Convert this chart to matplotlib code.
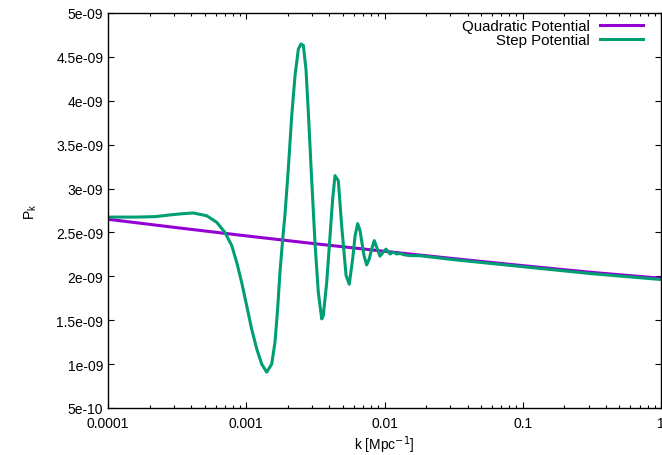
import matplotlib
matplotlib.use("Agg")
import matplotlib.pyplot as plt
import numpy as np
from matplotlib.ticker import LogLocator, NullFormatter

plt.rcParams['font.family'] = ['Liberation Sans', 'DejaVu Sans']

# Quadratic potential: log10(k), P_k [1e-9]
quad_logk = [-4.0, -3.5, -3.0, -2.5, -2.0, -1.5, -1.0, -0.5, 0.0]
quad_pk = [2.65, 2.554, 2.461, 2.371, 2.285, 2.202, 2.122, 2.045, 1.978]

# Step potential: log10(k), P_k [1e-9]
step_logk = [-4.0, -3.8, -3.66, -3.55, -3.479, -3.383, -3.286, -3.214, -3.154,
             -3.105, -3.069, -3.033, -2.997, -2.961, -2.924, -2.888, -2.852,
             -2.816, -2.792, -2.773, -2.756, -2.736, -2.720, -2.696, -2.671,
             -2.647, -2.623, -2.604, -2.587, -2.568, -2.551, -2.527, -2.503,
             -2.479, -2.454, -2.443, -2.418, -2.394, -2.375, -2.358, -2.334,
             -2.310, -2.278, -2.255, -2.230, -2.213, -2.194, -2.177, -2.148,
             -2.129, -2.110, -2.093, -2.074, -2.056, -2.033, -2.009, -1.989,
             -1.960, -1.936, -1.912, -1.888, -1.852, -1.816, -1.743, -1.5,
             -1.0, -0.5, 0.0]
step_pk = [2.675, 2.675, 2.68, 2.70, 2.711, 2.722, 2.69, 2.616, 2.50,
           2.35, 2.16, 1.93, 1.667, 1.40, 1.173, 1.0, 0.908,
           1.0, 1.25, 1.63, 2.05, 2.43, 2.70, 3.22, 3.83,
           4.29, 4.59, 4.647, 4.63, 4.36, 3.87, 3.11, 2.39,
           1.82, 1.515, 1.55, 1.93, 2.46, 2.88, 3.147, 3.09,
           2.58, 2.01, 1.91, 2.20, 2.46, 2.60, 2.52, 2.235,
           2.13, 2.20, 2.31, 2.407, 2.33, 2.23, 2.275, 2.31,
           2.255, 2.275, 2.255, 2.26, 2.244, 2.236, 2.235, 2.19,
           2.11, 2.03, 1.964]

yticks = [5e-10, 1e-9, 1.5e-9, 2e-9, 2.5e-9, 3e-9, 3.5e-9, 4e-9, 4.5e-9, 5e-9]
ytick_labels = ['5e-10', '1e-09', '1.5e-09', '2e-09', '2.5e-09', '3e-09',
                '3.5e-09', '4e-09', '4.5e-09', '5e-09']
xticks = [1e-4, 1e-3, 1e-2, 1e-1, 1.0]
xtick_labels = ['0.0001', '0.001', '0.01', '0.1', '1']

fig = plt.figure(figsize=(6.62, 4.56), dpi=100)
ax = fig.add_axes([108/662, 1-409/456, (661-108)/662, (409-14)/456])

kq = 10.0 ** np.array(quad_logk)
ks = 10.0 ** np.array(step_logk)
ax.plot(kq, np.array(quad_pk) * 1e-9, color='#9400d3', lw=2.2, label='Quadratic Potential')
ax.plot(ks, np.array(step_pk) * 1e-9, color='#009e73', lw=2.2, label='Step Potential',
        solid_joinstyle='round')

ax.set_xscale('log')
ax.set_xlim(1e-4, 1.0)
ax.set_ylim(5e-10, 5e-9)
ax.set_xticks(xticks)
ax.set_xticklabels(xtick_labels)
ax.xaxis.set_minor_locator(LogLocator(base=10, subs=np.arange(2, 10)))
ax.xaxis.set_minor_formatter(NullFormatter())
ax.set_yticks(yticks)
ax.set_yticklabels(ytick_labels)

ax.tick_params(which='both', direction='in', top=True, right=True, labelsize=10, colors='black')
ax.tick_params(which='major', length=4.5, width=0.8)
ax.tick_params(which='minor', length=2.3, width=0.8)
ax.tick_params(axis='x', which='major', pad=5.5)
for s in ax.spines.values():
    s.set_linewidth(1.0)

ax.set_xlabel('k [Mpc$^{-1}$]', fontsize=10)
ax.xaxis.set_label_coords(0.5, -0.064)
ax.set_ylabel('P$_\\mathregular{k}$', fontsize=10)
ax.yaxis.set_label_coords(-0.125, 0.5)

leg = ax.legend(loc='upper right', frameon=False, markerfirst=False, fontsize=10.8,
                handlelength=2.9, handletextpad=0.65, labelspacing=0.0,
                borderaxespad=0.0, borderpad=0.0,
                bbox_to_anchor=(0.9675, 0.985))

fig.savefig('out.png', dpi=100)
